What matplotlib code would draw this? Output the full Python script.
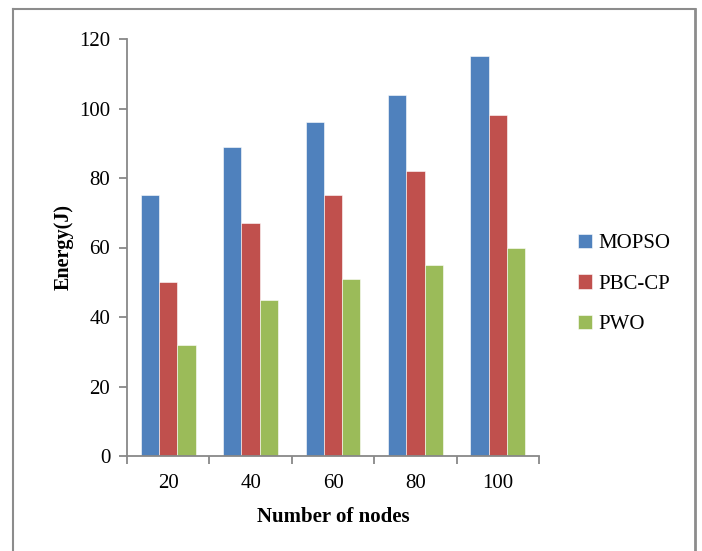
import matplotlib.pyplot as plt
from matplotlib.lines import Line2D
import numpy as np

plt.rcParams['font.family'] = ['Liberation Serif', 'DejaVu Serif']

nodes = ["20", "40", "60", "80", "100"]
mopso = [75, 89, 96, 104, 115]
pbc_cp = [50, 67, 75, 82, 98]
pwo = [32, 45, 51, 55, 60]

series = [("MOPSO", mopso, "#4F81BD"),
          ("PBC-CP", pbc_cp, "#C0504D"),
          ("PWO", pwo, "#9BBB59")]

W, H = 702, 551
fig = plt.figure(figsize=(W / 100, H / 100), dpi=100)
ax = fig.add_axes([127 / W, 1 - 456 / H, (539 - 127) / W, (456 - 39) / H])

x = np.arange(len(nodes))
bw = 1 / 4.5
for i, (name, vals, col) in enumerate(series):
    ax.bar(x + (i - 1) * bw, vals, bw, color=col, label=name,
           edgecolor="white", linewidth=0.4)

axis_grey = "#888888"
ax.set_xlim(-0.5, len(nodes) - 0.5)
ax.set_ylim(0, 120)
ax.set_yticks(range(0, 121, 20))
for s in ["top", "right"]:
    ax.spines[s].set_visible(False)
for s in ["left", "bottom"]:
    ax.spines[s].set_color(axis_grey)
    ax.spines[s].set_linewidth(1.3)

# category boundaries carry the tick marks, centers carry the labels
ax.set_xticks(np.arange(-0.5, len(nodes), 1))
ax.set_xticklabels([])
ax.set_xticks(x, minor=True)
ax.set_xticklabels(nodes, minor=True)
ax.tick_params(axis="x", which="major", length=6, width=1.3, color=axis_grey)
ax.tick_params(axis="x", which="minor", length=0, pad=13, labelsize=15)
ax.tick_params(axis="y", length=6, width=1.3, color=axis_grey, labelsize=15, pad=6)

ax.set_xlabel("Number of nodes", fontsize=15, fontweight="bold", labelpad=10)
ax.set_ylabel("Energy(J)", fontsize=14.5, fontweight="bold", labelpad=4)

fig.legend(loc="center left", bbox_to_anchor=(559 / W, 1 - 284 / H),
           frameon=False, fontsize=15, handlelength=0.7, handleheight=0.7,
           handletextpad=0.3, labelspacing=1.0)

# chart frame
fc = "#8c8c8c"
fig.add_artist(Line2D([13 / W, 13 / W], [0, 1 - 9 / H], color=fc, lw=1.5, transform=fig.transFigure))
fig.add_artist(Line2D([13 / W, 695 / W], [1 - 9 / H, 1 - 9 / H], color=fc, lw=1.5, transform=fig.transFigure))
fig.add_artist(Line2D([695 / W, 695 / W], [0, 1 - 9 / H], color=fc, lw=2, transform=fig.transFigure))

fig.savefig("out.png", dpi=100)
